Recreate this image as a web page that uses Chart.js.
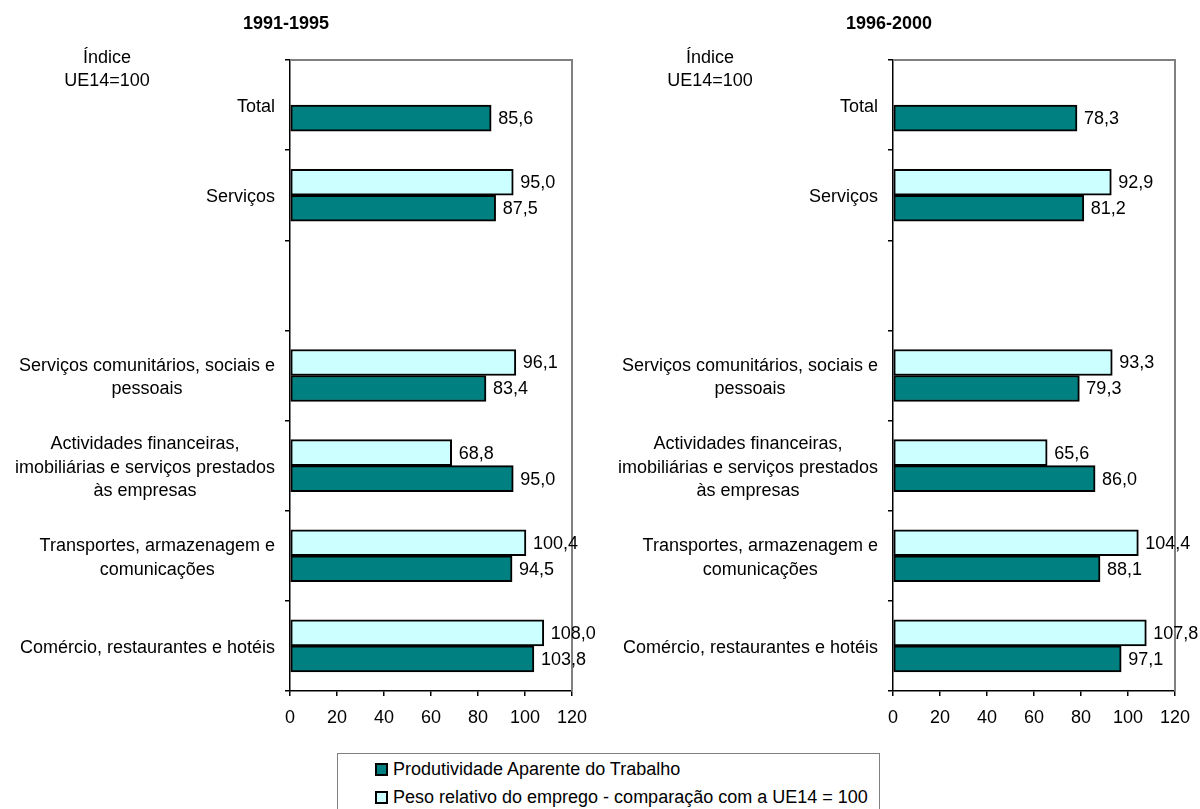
<!DOCTYPE html>
<html>
<head>
<meta charset="utf-8">
<script src="https://cdn.jsdelivr.net/npm/chart.js@4.4.0/dist/chart.umd.min.js"></script>
<style>
html, body { margin:0; padding:0; background:#fff; }
#page { position:relative; width:1200px; height:809px; overflow:hidden; font-family:'Liberation Sans', Arial, sans-serif; color:#000; }
.chart-box { position:absolute; top:0; width:600px; height:739px; }
#box-a { left:0; }
#box-b { left:603px; }
#legend { position:absolute; left:337px; top:753px; width:543px; height:66px; border:1px solid #808080; box-sizing:border-box; }
.leg-row { position:absolute; left:37px; height:22px; line-height:22px; font-size:18px; white-space:nowrap; }
.leg-mark { display:inline-block; width:13px; height:13px; border:2px solid #000; box-sizing:border-box; vertical-align:middle; margin-right:5px; position:relative; top:-1px; }
</style>
</head>
<body>
<div id="page">
  <div class="chart-box" id="box-a"><canvas id="Canvas-a" width="600" height="739"></canvas></div>
  <div class="chart-box" id="box-b"><canvas id="Canvas-b" width="600" height="739"></canvas></div>
  <div id="legend"></div>
</div>
<script>
//______________________________________________________
var Categories = [
    'Total',
    'Serviços',
    '',
    ['Serviços comunitários, sociais e', 'pessoais'],
    ['Actividades financeiras,', 'imobiliárias e serviços prestados', 'às empresas'],
    ['Transportes, armazenagem e', 'comunicações'],
    'Comércio, restaurantes e hotéis'
];
var SeriesNames = ['Produtividade Aparente do Trabalho', 'Peso relativo do emprego - comparação com a UE14 = 100'];
var SeriesColors = ['#008080', '#CCFFFF'];
var Periods = ['1991-1995', '1996-2000'];
var AxisNote = ['Índice', 'UE14=100'];

var Prod9195 = [85.6, 87.5, null, 83.4, 95.0, 94.5, 103.8];
var Peso9195 = [null, 95.0, null, 96.1, 68.8, 100.4, 108.0];
var Prod9600 = [78.3, 81.2, null, 79.3, 86.0, 88.1, 97.1];
var Peso9600 = [null, 92.9, null, 93.3, 65.6, 104.4, 107.8];

var XMin = 0, XMax = 120, XStep = 20;

const FontFamily = "'Liberation Sans', Arial, sans-serif";
const FontSize = 18;

//______________________________________________________
function fmtVal (v) { // 85.6 -> "85,6"
    return v.toFixed(1).replace('.', ',');
}
//______________________________________________________
var sideTextPlugin = {
    id: 'sideText',
    beforeDatasetsDraw: function (chart) { // gray frame top and right
        var ctx = chart.ctx, a = chart.chartArea;
        ctx.save();
        ctx.strokeStyle = '#808080';
        ctx.lineWidth = 2;
        ctx.beginPath();
        ctx.moveTo(a.left, a.top);
        ctx.lineTo(a.right, a.top);
        ctx.lineTo(a.right, a.bottom);
        ctx.stroke();
        ctx.restore();
    },
    afterDatasetsDraw: function (chart) { // value labels + category labels
        var ctx = chart.ctx;
        ctx.save();
        ctx.font = FontSize + 'px ' + FontFamily;
        ctx.fillStyle = '#000';
        ctx.textBaseline = 'middle';
        ctx.textAlign = 'left';
        chart.data.datasets.forEach(function (ds, di) {
            var meta = chart.getDatasetMeta(di);
            meta.data.forEach(function (bar, i) {
                var v = ds.data[i];
                if (v === null || v === undefined) return;
                ctx.fillText(fmtVal(v), bar.x + 7, bar.y + 1);
            });
        });

        var yScale = chart.scales.y;
        var lineH = 23.5;
        ctx.textAlign = 'center';
        chart.data.labels.forEach(function (lab, i) {
            var lines = Array.isArray(lab) ? lab : [lab];
            if (!lines[0]) return;
            var w = 0;
            lines.forEach(function (l) { w = Math.max(w, ctx.measureText(l).width); });
            var cx = yScale.right - 15 - w / 2;
            var y0 = yScale.getPixelForValue(i) + 2 - (lines.length - 1) * lineH / 2;
            lines.forEach(function (l, k) { ctx.fillText(l, cx, y0 + k * lineH); });
        });

        AxisNote.forEach(function (l, k) { ctx.fillText(l, 107, 58 + k * 23); });
        ctx.restore();
    }
};
//______________________________________________________
function makeChart (canvasId, period, prod, peso) {
    var bar = { borderColor: '#000', borderWidth: 2, borderSkipped: false, barThickness: 26 };
    return new Chart(canvasId, {
        type: 'bar',
        data: {
            labels: Categories,
            datasets: [
                Object.assign({ label: SeriesNames[1], data: peso, backgroundColor: SeriesColors[1] }, bar),
                Object.assign({ label: SeriesNames[0], data: prod, backgroundColor: SeriesColors[0] }, bar)
            ]
        },
        options: {
            indexAxis: 'y',
            responsive: false,
            animation: false,
            devicePixelRatio: 1,
            layout: { padding: { left: 0, right: 28, top: 0, bottom: 0 } },
            plugins: {
                legend: { display: false },
                tooltip: { enabled: false },
                title: {
                    display: true,
                    text: period,
                    color: '#000',
                    font: { family: FontFamily, size: FontSize, weight: 'bold' },
                    padding: { top: 13, bottom: 25.4 }
                }
            },
            scales: {
                x: {
                    min: XMin, max: XMax,
                    ticks: { stepSize: XStep, color: '#000', font: { family: FontFamily, size: FontSize }, padding: 11, maxRotation: 0 },
                    grid: { drawOnChartArea: false, drawTicks: true, tickLength: 5, color: '#000', lineWidth: 1.5 },
                    border: { color: '#000', width: 1.5 },
                    afterFit: function (s) { s.height = 48; }
                },
                y: {
                    offset: true,
                    ticks: { display: false },
                    grid: { offset: true, drawOnChartArea: false, drawTicks: true, tickLength: 5, color: '#000', lineWidth: 1.5 },
                    border: { color: '#000', width: 1.5 },
                    afterFit: function (s) { s.width = 290; }
                }
            }
        },
        plugins: [sideTextPlugin]
    });
}
//______________________________________________________
function buildLegend () {
    var $leg = document.getElementById('legend');
    SeriesNames.forEach(function (name, i) {
        var row = document.createElement('div');
        row.className = 'leg-row';
        row.style.top = (4 + i * 28) + 'px';
        row.innerHTML = '<span class="leg-mark" style="background:' + SeriesColors[i] + '"></span>' + name;
        $leg.appendChild(row);
    });
}
//______________________________________________________
makeChart('Canvas-a', Periods[0], Prod9195, Peso9195);
makeChart('Canvas-b', Periods[1], Prod9600, Peso9600);
buildLegend();
</script>
</body>
</html>
